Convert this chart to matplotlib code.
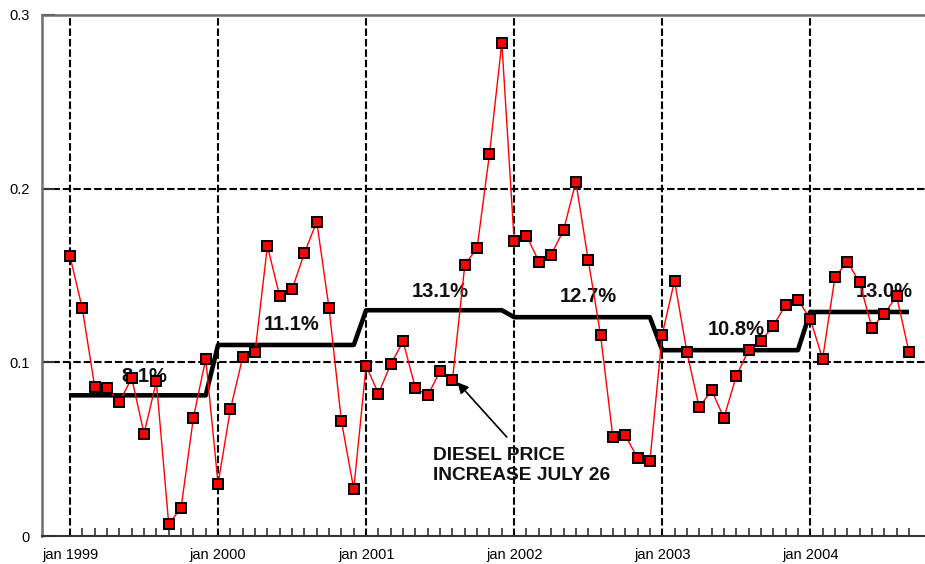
import numpy as np
import matplotlib.pyplot as plt

plt.rcParams['font.family'] = ['Liberation Sans', 'DejaVu Sans']

# monthly values, jan 1999 .. sep 2004
monthly = [
    0.161, 0.131, 0.086, 0.085, 0.077, 0.091, 0.059, 0.089, 0.007, 0.016, 0.068, 0.102,
    0.030, 0.073, 0.103, 0.106, 0.167, 0.138, 0.142, 0.163, 0.181, 0.131, 0.066, 0.027,
    0.098, 0.082, 0.099, 0.112, 0.085, 0.081, 0.095, 0.090, 0.156, 0.166, 0.220, 0.284,
    0.170, 0.173, 0.158, 0.162, 0.176, 0.204, 0.159, 0.116, 0.057, 0.058, 0.045, 0.043,
    0.116, 0.147, 0.106, 0.074, 0.084, 0.068, 0.092, 0.107, 0.112, 0.121, 0.133, 0.136,
    0.125, 0.102, 0.149, 0.158, 0.146, 0.120, 0.128, 0.138, 0.106,
]
years = ['1999', '2000', '2001', '2002', '2003', '2004']
year_avg = [0.081, 0.110, 0.130, 0.126, 0.107, 0.129]
year_labels = ['8.1%', '11.1%', '13.1%', '12.7%', '10.8%', '13.0%']
label_y = [0.092, 0.122, 0.141, 0.138, 0.119, 0.141]

months = np.arange(len(monthly))
avg_line = [year_avg[m // 12] for m in months]

fig = plt.figure(figsize=(9.25, 5.64), dpi=100)
ax = fig.add_axes([42 / 925, 28 / 564, 883 / 925, 521 / 564])

ax.set_xlim(-2.27, 69.3)
ax.set_ylim(0, 0.3)

dash = (0, (3.6, 1.4))
for k in range(len(years)):
    ax.axvline(12 * k, color='black', lw=1.5, ls=dash, zorder=1)
for yv in (0.1, 0.2):
    ax.axhline(yv, color='black', lw=1.5, ls=dash, zorder=1)

ax.plot(months, avg_line, color='black', lw=3.3, solid_joinstyle='round',
        solid_capstyle='butt', zorder=2)

for k, lab in enumerate(year_labels):
    ax.text(12 * k + 6, label_y[k], lab, ha='center', va='center',
            fontsize=14.5, fontweight='bold', color='#111111', zorder=2.5)

ax.plot(months, monthly, color='red', lw=1.0, marker='s', markersize=7.6,
        markerfacecolor='red', markeredgecolor='black', markeredgewidth=1.4, zorder=3)

# diesel price note
ax.annotate('', xy=(31.4, 0.0885), xytext=(35.4, 0.057),
            arrowprops=dict(arrowstyle='-|>', color='black', lw=1.2, mutation_scale=16,
                            shrinkA=0, shrinkB=0),
            zorder=4)
ax.text(29.4, 0.0515, 'DIESEL PRICE\nINCREASE JULY 26', ha='left', va='top',
        fontsize=13.8, fontweight='bold', color='#111111', linespacing=1.3, zorder=4)

ax.set_xticks([12 * k for k in range(len(years))])
ax.set_xticklabels(['jan ' + y for y in years])
ax.set_xticks(months, minor=True)
ax.set_yticks([0, 0.1, 0.2, 0.3])
ax.set_yticklabels(['0', '0.1', '0.2', '0.3'])

ax.tick_params(axis='x', which='major', direction='in', length=0, pad=9, labelsize=10.5)
ax.tick_params(axis='x', which='minor', direction='in', length=6, width=1.2, color='#333333')
ax.tick_params(axis='y', direction='in', length=9, width=1.5, color='#333333', pad=9,
               labelsize=10.5)

for side in ('left', 'top'):
    ax.spines[side].set_color('#6e6e6e')
    ax.spines[side].set_linewidth(1.8)
ax.spines['bottom'].set_color('#333333')
ax.spines['bottom'].set_linewidth(1.5)
ax.spines['right'].set_visible(False)

fig.savefig('out.png', dpi=100)
